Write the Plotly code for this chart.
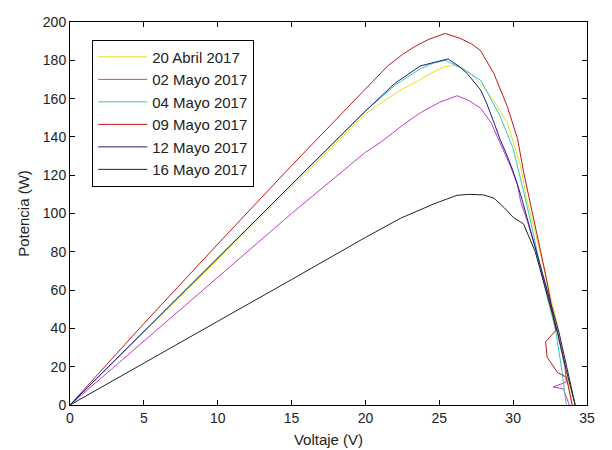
import plotly.graph_objects as go

# ---- data ----
labels = ["20 Abril 2017", "02 Mayo 2017", "04 Mayo 2017",
          "09 Mayo 2017", "12 Mayo 2017", "16 Mayo 2017"]

v_abril20 = [0, 5, 10, 15, 20, 21, 22.5, 23.5, 24.5, 25.3, 26, 27, 28, 28.6, 29.6, 30.5, 30.9, 31.5, 32.2, 32.9, 33.5, 34.0]
p_abril20 = [0, 38, 76, 114, 152, 157.5, 165, 169, 173.5, 176.5, 177.5, 174, 166, 160, 147.5, 125, 108, 90, 68, 45, 22, 0]

v_mayo02 = [0, 5, 10, 15, 20, 21, 22.5, 23.7, 25, 26.2, 27.0, 27.8, 28.5, 29.1, 29.8, 30.3, 30.5, 31.0, 31.5, 32.2, 33.0, 33.5, 33.6, 32.7, 33.4, 33.8]
p_mayo02 = [0, 33.5, 67, 100, 132, 137, 146, 152.5, 158, 161.5, 159, 155, 147.5, 137, 125, 115, 106.5, 95, 82, 62, 38, 20, 12, 9.4, 8.5, 0]

v_mayo04 = [0, 5, 10, 15, 20, 22, 23.7, 24.6, 25.4, 26.5, 27.8, 29.1, 30.0, 30.7, 31.3, 32.0, 32.4, 32.9, 33.3, 33.6]
p_mayo04 = [0, 38.5, 77, 115.5, 153.5, 167, 175.5, 178.5, 180, 176, 169.6, 151, 134, 111.7, 92, 66, 54, 38, 18, 0]

v_mayo09 = [0, 5, 10, 15, 20, 21.5, 22.5, 23.3, 24.3, 25.4, 26.4, 27.2, 27.8, 28.7, 29.6, 30.3, 30.7, 31.1, 31.6, 32.2, 32.9, 32.2, 32.3, 33.0, 33.6, 33.9, 34.0]
p_mayo09 = [0, 42.5, 84, 125, 165, 177, 183, 187, 191, 194, 191.5, 188.5, 185, 173, 156, 139, 122, 108, 90, 68, 39, 33, 25, 17, 14.5, 3, 0]

v_mayo12 = [0, 5, 10, 15, 20, 22, 23.7, 24.7, 25.6, 26.4, 26.9, 27.8, 28.2, 28.7, 29.1, 29.6, 30.0, 30.5, 31.0, 31.5, 32.2, 33.1, 33.8, 34.2]
p_mayo12 = [0, 38.5, 77, 115.5, 153.5, 168, 177, 179, 180.7, 176.5, 173, 164.5, 157.7, 147.5, 139, 130, 122, 110, 96, 82, 62, 38, 14, 0]

v_mayo16 = [0, 5, 10, 15, 20, 22.4, 23.6, 24.6, 25.5, 26.2, 27.0, 28.0, 28.7, 29.4, 30.0, 30.7, 31.5, 32.2, 33.0, 33.6, 34.2]
p_mayo16 = [0, 22, 43.7, 65.5, 87.5, 97.6, 101.8, 104.9, 107.5, 109.5, 110, 109.7, 108, 103, 98, 94.6, 80, 60, 38, 18, 0]

x_ticks = [0, 5, 10, 15, 20, 25, 30, 35]
y_ticks = [0, 20, 40, 60, 80, 100, 120, 140, 160, 180, 200]

series = [
    (v_abril20, p_abril20, "#e3e31c"),
    (v_mayo02, p_mayo02, "#c43cc4"),
    (v_mayo04, p_mayo04, "#3cc4c8"),
    (v_mayo09, p_mayo09, "#c01818"),
    (v_mayo12, p_mayo12, "#1c1c86"),
    (v_mayo16, p_mayo16, "#222222"),
]

fig = go.Figure()
for (vx, py, col), name in zip(series, labels):
    fig.add_trace(go.Scatter(x=vx, y=py, mode="lines", name=name,
                             legendgroup=name,
                             line=dict(color=col, width=1)))

font_family = "Liberation Sans, Arial, Helvetica, sans-serif"
axis_common = dict(showgrid=False, zeroline=False, showline=True,
                   linecolor="black", linewidth=1, mirror="ticks",
                   ticks="inside", ticklen=5, tickcolor="black",
                   ticklabeloverflow="allow",
                   tickfont=dict(size=14, color="#222", family=font_family))

fig.update_layout(
    width=612, height=450,
    margin=dict(l=62, r=33, t=6, b=53),
    paper_bgcolor="white", plot_bgcolor="white",
    font=dict(family=font_family, size=14, color="#222"),
    xaxis=dict(range=[0, 35], tickvals=x_ticks,
               title=dict(text="Voltaje (V)", standoff=9, font=dict(size=15)),
               **axis_common),
    yaxis=dict(range=[0, 200], tickvals=y_ticks,
               title=dict(text="Potencia (W)", standoff=9, font=dict(size=15)),
               **axis_common),
    legend=dict(x=0.043, y=0.954, xanchor="left", yanchor="top",
                bordercolor="black", borderwidth=1, bgcolor="white",
                font=dict(size=15, family=font_family, color="#222"),
                tracegroupgap=0, itemwidth=49),
    showlegend=True,
)

fig.write_html("out.html")
